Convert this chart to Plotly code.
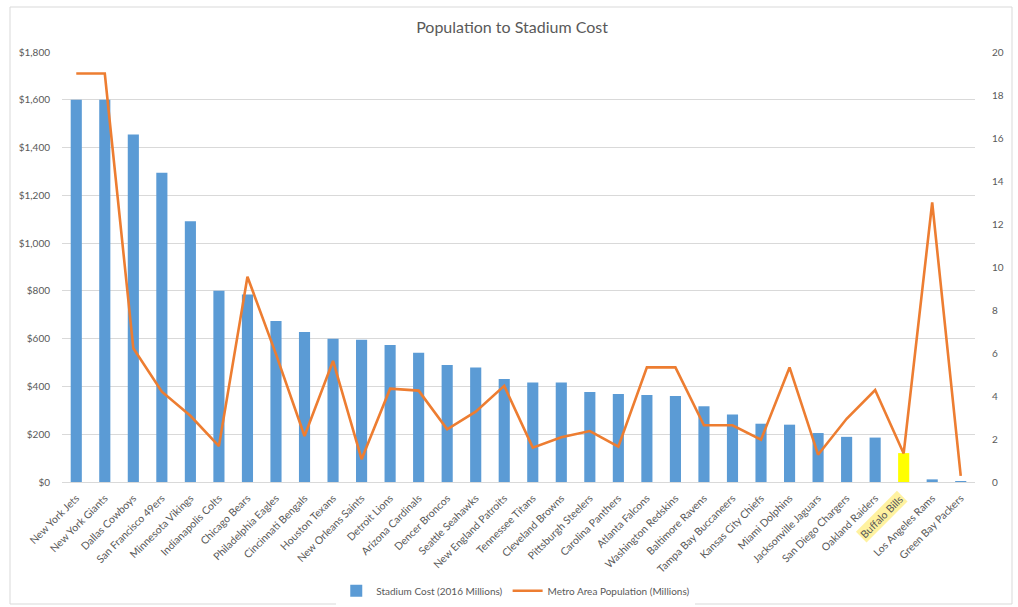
import plotly.graph_objects as go

teams = ["New York Jets", "New York Giants", "Dallas Cowboys", "San Francisco 49ers",
         "Minnesota Vikings", "Indianapolis Colts", "Chicago Bears", "Philadelphia Eagles",
         "Cincinnati Bengals", "Houston Texans", "New Orleans Saints", "Detroit Lions",
         "Arizona Cardinals", "Dencer Broncos", "Seattle Seahawks", "New England Patroits",
         "Tennessee Titans", "Cleveland Browns", "Pittsburgh Steelers", "Carolina Panthers",
         "Atlanta Falcons", "Washington Redskins", "Baltimore Ravens", "Tampa Bay Buccaneers",
         "Kansas City Chiefs", "Miami Dolphins", "Jacksonville Jaguars", "San Diego Chargers",
         "Oakland Raiders", "Buffalo Bills", "Los Angeles Rams", "Green Bay Packers"]

stadium_cost = [1600, 1600, 1455, 1295, 1092, 801, 785, 674, 628, 600, 595, 573,
                541, 490, 479, 431, 417, 417, 377, 368, 364, 360, 317, 283,
                244, 240, 205, 189, 186, 121, 11, 4]

metro_pop = [19, 19, 6.22, 4.2, 3.08, 1.67, 9.55, 5.95, 2.14, 5.63, 1.06, 4.34,
             4.25, 2.45, 3.27, 4.47, 1.6, 2.08, 2.37, 1.64, 5.33, 5.33, 2.64, 2.64,
             1.97, 5.33, 1.27, 2.94, 4.28, 1.33, 13, 0.28]

highlight_team = "Buffalo Bills"

FONT = "Lato, 'Open Sans', sans-serif"
GREY = "#595959"
BLUE = "#5B9BD5"
ORANGE = "#ED7D31"

bar_colors = ["#FFFF00" if t == highlight_team else BLUE for t in teams]
tick_text = ["" if t == highlight_team else t for t in teams]

fig = go.Figure()
fig.add_trace(go.Bar(
    x=teams, y=stadium_cost, name="Stadium Cost (2016 Millions)",
    marker=dict(color=bar_colors, line=dict(width=0)), width=0.39,
    yaxis="y",
))
fig.add_trace(go.Scatter(
    x=teams, y=metro_pop, name="Metro Area Population (Millions)",
    mode="lines", line=dict(color=ORANGE, width=2.6), yaxis="y2",
))

fig.update_layout(
    width=1018, height=607,
    margin=dict(l=62, r=43, t=52, b=125, autoexpand=False),
    paper_bgcolor="white", plot_bgcolor="white",
    font=dict(family=FONT, color=GREY, size=10),
    title=dict(text="Population to Stadium Cost", x=0.503, xanchor="center",
               y=0.955, yanchor="middle", font=dict(size=16, color=GREY, family=FONT)),
    showlegend=True,
    legend=dict(orientation="h", x=0.497, xanchor="center", y=-0.253, yanchor="middle",
                font=dict(size=10, color=GREY), itemwidth=30),
    xaxis=dict(
        type="category", tickmode="array", tickvals=teams, ticktext=tick_text,
        tickangle=-45, showgrid=False, showline=True, linecolor="#D9D9D9", linewidth=1,
        ticks="", tickfont=dict(size=10.5, color=GREY), range=[-0.5, len(teams) - 0.5],
        automargin=False, ticklabelstandoff=5,
    ),
    yaxis=dict(
        range=[0, 1800], dtick=200, tickprefix="$", tickformat=",",
        showgrid=True, gridcolor="#D9D9D9", gridwidth=1, zeroline=False,
        showline=False, ticks="", tickfont=dict(size=10, color=GREY),
        ticklabelstandoff=11, automargin=False,
    ),
    yaxis2=dict(
        range=[0, 20], dtick=2, overlaying="y", side="right", showgrid=False,
        zeroline=False, showline=False, ticks="", tickfont=dict(size=10, color=GREY),
        ticklabelstandoff=16, automargin=False,
    ),
    annotations=[dict(
        x=highlight_team, xref="x", y=0, yref="paper", text=highlight_team,
        textangle=-45, xanchor="right", yanchor="top", showarrow=False,
        xshift=4, yshift=-8, bgcolor="#FFF2A0", font=dict(size=10.5, color=GREY),
    )],
    shapes=[dict(
        type="rect", xref="paper", yref="paper",
        x0=(10 - 62) / 913, x1=(1012 - 62) / 913,
        y0=(482 - 604) / 430, y1=1 + 45 / 430,
        line=dict(color="#D9D9D9", width=1), fillcolor="rgba(0,0,0,0)", layer="below",
    )],
)

fig.write_html("out.html")
